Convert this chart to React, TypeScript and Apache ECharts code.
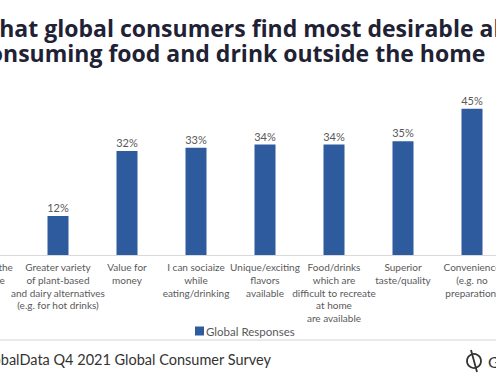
import React, { useEffect, useRef } from "react";
import * as echarts from "echarts";

const categories = [
  "Escape the\nroutine",
  "Greater variety\nof plant-based\nand dairy alternatives\n(e.g. for hot drinks)",
  "Value for\nmoney",
  "I can sociaize\nwhile\neating/drinking",
  "Unique/exciting\nflavors\navailable",
  "Food/drinks\nwhich are\ndifficult to recreate\nat home\nare available",
  "Superior\ntaste/quality",
  "Convenience\n(e.g. no\npreparation)",
];
const values = [9, 12, 32, 33, 34, 34, 35, 45];
const seriesName = "Global Responses";
const titleLines = [
  "What global consumers find most desirable about",
  "consuming food and drink outside the home",
];
const sourceText = "Source: GlobalData Q4 2021 Global Consumer Survey";
const brandText = "GlobalData";

export default function App() {
  const ref = useRef<HTMLDivElement>(null);
  useEffect(() => {
    if (!ref.current) return;
    const chart = echarts.init(ref.current, null, { renderer: "svg" });
    chart.setOption({
      animation: false,
      backgroundColor: "#ffffff",
      textStyle: { fontFamily: "Lato" },
      grid: {
        left: -45.5,
        width: 552,
        top: 92.5,
        height: 162.5,
        containLabel: false,
        outerBoundsMode: "none",
      },
      legend: {
        data: [seriesName],
        left: 190,
        top: 320,
        icon: "rect",
        itemWidth: 9,
        itemHeight: 9,
        textStyle: { fontSize: 11.5, color: "#595959", fontFamily: "Lato", padding: [0, 0, 0, -3] },
      },
      xAxis: {
        type: "category",
        data: categories,
        axisLine: { lineStyle: { color: "#d9d9d9", width: 1 } },
        axisTick: { show: false },
        axisLabel: {
          interval: 0,
          fontSize: 10,
          lineHeight: 12.7,
          color: "#595959",
          margin: 6,
          fontFamily: "Lato",
        },
      },
      yAxis: { type: "value", min: 0, max: 50, show: false },
      series: [
        {
          name: seriesName,
          type: "bar",
          data: values,
          barWidth: 21,
          itemStyle: { color: "#2e5b9e" },
          label: {
            show: true,
            position: "top",
            distance: 3,
            formatter: "{c}%",
            fontSize: 11,
            color: "#595959",
            fontFamily: "Lato",
          },
        },
      ],
      graphic: [
        {
          type: "text",
          x: -23,
          y: 15,
          style: {
            text: titleLines.join("\n"),
            font: "bold 23px 'Open Sans'",
            lineHeight: 25,
            fill: "#1f2235",
            textAlign: "left",
            textVerticalAlign: "top",
          },
        },
        {
          type: "line",
          shape: { x1: 0, y1: 340, x2: 496, y2: 340 },
          style: { stroke: "#e3e3e3", lineWidth: 1.5 },
        },
        {
          type: "text",
          x: 271,
          y: 359,
          style: {
            text: sourceText,
            font: "14.5px Lato",
            fill: "#333333",
            textAlign: "right",
            textVerticalAlign: "middle",
          },
        },
        {
          type: "circle",
          shape: { cx: 474, cy: 361, r: 7 },
          style: { fill: "none", stroke: "#333333", lineWidth: 1.8 },
        },
        {
          type: "line",
          shape: { x1: 471, y1: 350, x2: 477, y2: 372 },
          style: { stroke: "#333333", lineWidth: 1.8 },
        },
        {
          type: "text",
          x: 488,
          y: 361,
          style: {
            text: brandText,
            font: "16px Lato",
            fill: "#333333",
            textAlign: "left",
            textVerticalAlign: "middle",
          },
        },
      ],
    });
    return () => chart.dispose();
  }, []);
  return (
    <div
      ref={ref}
      style={{ position: "fixed", left: 0, top: 0, width: 496, height: 380 }}
    />
  );
}
